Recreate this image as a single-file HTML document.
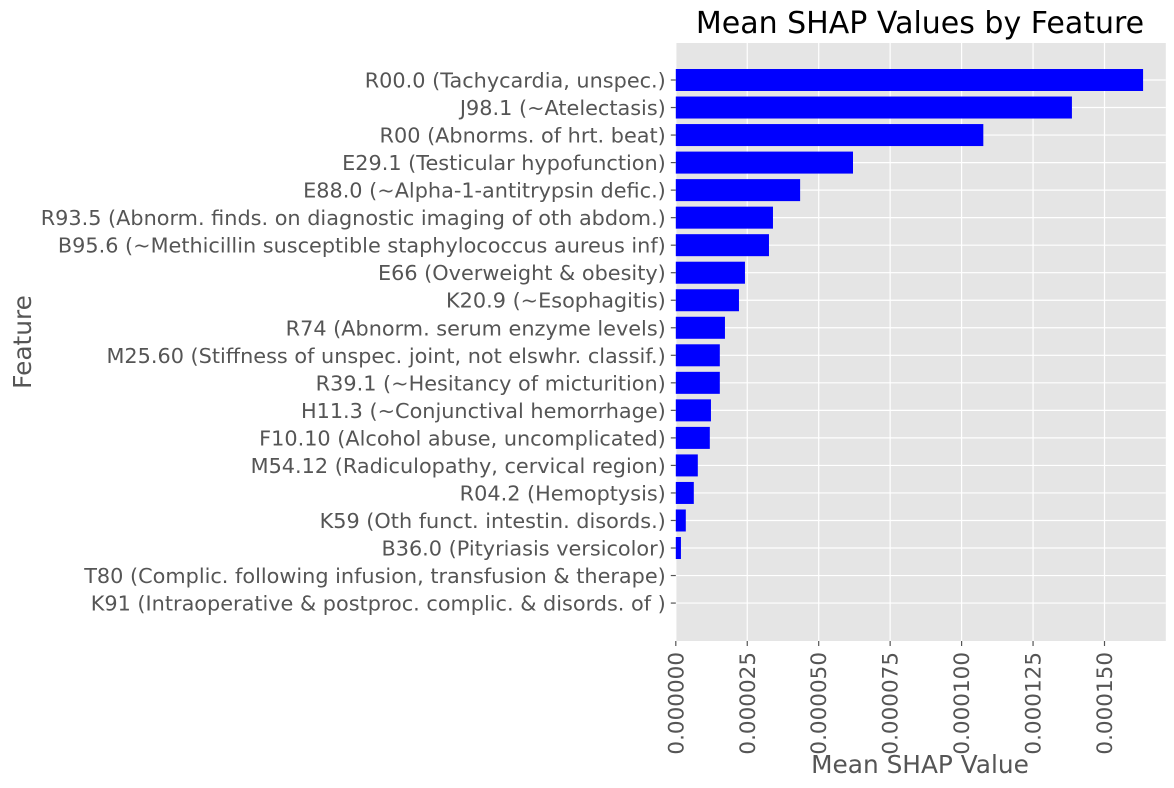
<!DOCTYPE html>
<html><head><meta charset="utf-8"><style>
body{margin:0;background:#fff;}
svg{display:block;font-family:"DejaVu Sans","Liberation Sans",sans-serif;}
</style></head><body>
<svg id="chart" width="1174" height="788" viewBox="0 0 1174 788">
<rect x="675.8" y="43" width="490" height="598" fill="#E5E5E5"/>
<g id="grid"></g><g id="bars"></g><g id="yticks"></g><g id="xticks"></g>
<text x="920" y="33" font-size="30" text-anchor="middle" fill="#000">Mean SHAP Values by Feature</text>
<text x="920" y="773" font-size="24.8" text-anchor="middle" fill="#555">Mean SHAP Value</text>
<text transform="translate(31,342) rotate(-90)" font-size="24.8" text-anchor="middle" fill="#555">Feature</text>
</svg>
<script>
const categories=["R00.0 (Tachycardia, unspec.)","J98.1 (~Atelectasis)","R00 (Abnorms. of hrt. beat)","E29.1 (Testicular hypofunction)","E88.0 (~Alpha-1-antitrypsin defic.)","R93.5 (Abnorm. finds. on diagnostic imaging of oth abdom.)","B95.6 (~Methicillin susceptible staphylococcus aureus inf)","E66 (Overweight & obesity)","K20.9 (~Esophagitis)","R74 (Abnorm. serum enzyme levels)","M25.60 (Stiffness of unspec. joint, not elswhr. classif.)","R39.1 (~Hesitancy of micturition)","H11.3 (~Conjunctival hemorrhage)","F10.10 (Alcohol abuse, uncomplicated)","M54.12 (Radiculopathy, cervical region)","R04.2 (Hemoptysis)","K59 (Oth funct. intestin. disords.)","B36.0 (Pityriasis versicolor)","T80 (Complic. following infusion, transfusion & therape)","K91 (Intraoperative & postproc. complic. & disords. of )"];
const values=[0.0001635,0.0001386,0.0001076,0.000062,0.0000435,0.000034,0.0000326,0.0000242,0.0000221,0.0000172,0.0000154,0.0000154,0.0000123,0.0000119,0.0000077,0.0000063,0.0000035,0.0000018,0,0];
const xTicks=[0,0.000025,0.00005,0.000075,0.0001,0.000125,0.00015];
const xTickLabels=["0.000000","0.000025","0.000050","0.000075","0.000100","0.000125","0.000150"];
const NS="http://www.w3.org/2000/svg";
const X0=675.8,PX=2.858e6,Y0=80,STEP=27.53,BH=22,TOP=43,BOT=641,RIGHT=1165.8;
const xs=v=>X0+v*PX, ys=i=>Y0+i*STEP;
function mk(t,a,p){const e=document.createElementNS(NS,t);for(const k in a)e.setAttribute(k,a[k]);p.appendChild(e);return e;}
const grid=document.getElementById('grid'),bars=document.getElementById('bars'),yt=document.getElementById('yticks'),xt=document.getElementById('xticks');
xTicks.forEach((v,i)=>{const x=xs(v);
 const g=mk('line',{x1:x,x2:x,y1:TOP,y2:BOT,stroke:'#fff','stroke-width':1.2},grid);
 
 
 const tk=mk('line',{x1:x,x2:x,y1:BOT,y2:BOT+5,stroke:'#555','stroke-width':1.2},xt);
 
 
 const t=mk('text',{transform:`translate(${x+7.5},${BOT+11}) rotate(-90)`,'font-size':21.5,'text-anchor':'end',fill:'#555'},xt);
 t.textContent=xTickLabels[i];
 
 
});
categories.forEach((c,i)=>{const y=ys(i);
 const g=mk('line',{x1:X0,x2:RIGHT,y1:y,y2:y,stroke:'#fff','stroke-width':1.2},grid);
 
 
 const w=xs(values[i])-X0;
 const b=mk('rect',{x:X0,y:y-BH/2,width:Math.max(w,0),height:BH,fill:'#0000FF'},bars);
 
 
 const tk=mk('line',{x1:X0-5,x2:X0,y1:y,y2:y,stroke:'#555','stroke-width':1.2},yt);
 
 
 const t=mk('text',{x:X0-10,y:y+7.5,'font-size':20.8,'text-anchor':'end',fill:'#555'},yt);
 t.textContent=c;
 
 
});
</script>
</body></html>
